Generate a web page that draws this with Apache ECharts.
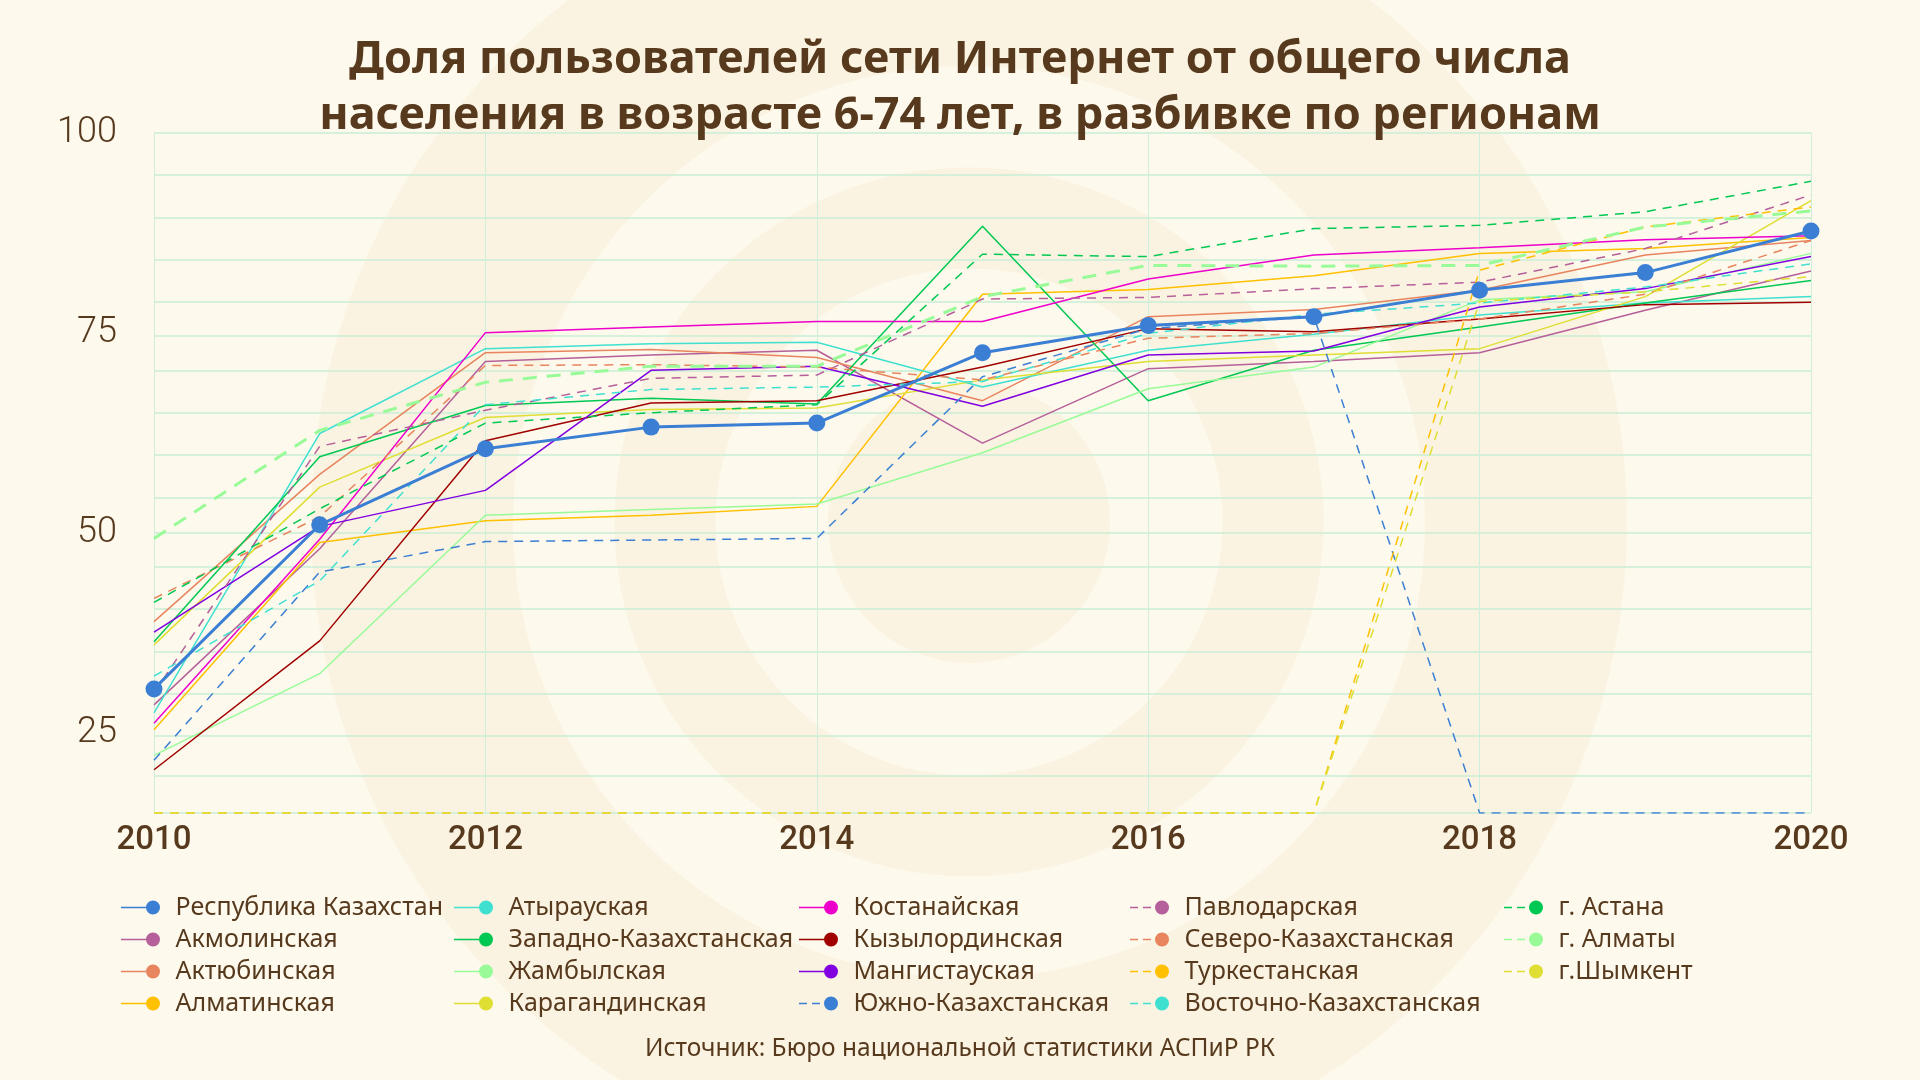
<!DOCTYPE html>
<html>
<head>
<meta charset="utf-8">
<style>
  html, body { margin: 0; padding: 0; background: #fdf9ec; }
  #chart { width: 1920px; height: 1080px; }
</style>
<script src="https://cdn.jsdelivr.net/npm/echarts@6/dist/echarts.min.js"></script>
</head>
<body>
<div id="chart"></div>
<script>
// ---------------- data ----------------
const years = [2010, 2011, 2012, 2013, 2014, 2015, 2016, 2017, 2018, 2019, 2020];

// values at 15 are drawn on the axis floor in the reference (no data)
const kazakhstan  = [30.5, 51.0, 60.5, 63.2, 63.7, 72.5, 75.9, 77.0, 80.3, 82.5, 87.7];
const akmola      = [28.5, 48.0, 71.4, 72.2, 72.8, 61.2, 70.5, 71.4, 72.5, 77.8, 82.7];
const aktobe      = [38.9, 57.3, 72.5, 72.9, 71.9, 66.5, 77.0, 77.9, 80.3, 84.7, 86.5];
const almatyReg   = [25.4, 48.8, 51.5, 52.2, 53.3, 79.8, 80.4, 82.1, 84.9, 85.5, 86.9];
const atyrau      = [27.5, 62.4, 73.0, 73.6, 73.8, 68.2, 72.8, 74.8, 77.2, 78.7, 79.5];
const westKaz     = [36.4, 59.5, 65.9, 66.8, 66.1, 88.3, 66.5, 72.8, 75.7, 78.7, 81.5];
const zhambyl     = [22.2, 32.4, 52.2, 52.9, 53.6, 60.0, 68.0, 70.7, 79.1, 80.1, 84.9];
const karaganda   = [36.0, 55.7, 64.4, 65.4, 65.6, 69.1, 71.4, 72.2, 73.0, 79.5, 91.5];
const kostanay    = [26.2, 49.2, 75.0, 75.7, 76.4, 76.4, 81.7, 84.7, 85.6, 86.6, 87.1];
const kyzylorda   = [20.4, 36.5, 61.5, 66.2, 66.5, 70.7, 75.5, 75.1, 76.7, 78.5, 78.8];
const mangystau   = [37.6, 50.8, 55.3, 70.3, 70.8, 65.8, 72.2, 72.7, 78.2, 80.5, 84.5];
const southKaz    = [21.6, 45.1, 48.9, 49.1, 49.3, 69.5, 75.5, 77.0, 15, 15, 15];
const pavlodar    = [30.0, 60.8, 65.3, 69.3, 69.7, 79.2, 79.4, 80.5, 81.3, 85.5, 92.2];
const northKaz    = [41.8, 52.0, 70.9, 71.0, 70.7, 69.1, 74.3, 74.9, 76.7, 79.8, 86.5];
const turkestan   = [15, 15, 15, 15, 15, 15, 15, 15, 82.8, 88.2, 90.7];
const eastKaz     = [32.1, 44.0, 66.0, 67.9, 68.2, 68.9, 74.9, 77.3, 78.7, 80.7, 83.6];
const astana      = [41.3, 53.0, 63.7, 65.0, 66.0, 84.8, 84.5, 88.0, 88.4, 90.1, 93.9];
const almatyCity  = [49.3, 62.8, 68.8, 70.8, 70.8, 79.5, 83.4, 83.3, 83.4, 88.2, 90.2];
const shymkent    = [15, 15, 15, 15, 15, 15, 15, 15, 78.9, 80.1, 82.0];

const yLabelValues = [25, 50, 75, 100];
const yGridValues = [15, 19.6, 24.7, 29.9, 35.1, 40.5, 45.7, 50, 54.4, 59.7, 65, 70.3, 74.6, 78.8, 84.1, 89.4, 94.7, 100];

const titleText = 'Доля пользователей сети Интернет от общего числа\nнаселения в возрасте 6-74 лет, в разбивке по регионам';
const sourceText = 'Источник: Бюро национальной статистики АСПиР РК';

// ---------------- styles ----------------
const C = {
  blue: '#3b7fd4', mauve: '#b5609a', salmon: '#e8845e', amber: '#ffc000',
  turq: '#40e0d0', green: '#00c853', pale: '#98fb98', yellow: '#dede33',
  magenta: '#ee00cc', darkred: '#a00000', violet: '#8000e0'
};
const brown = '#573a1e';

const seriesDefs = [
  { name: 'Республика Казахстан', data: kazakhstan, color: C.blue, main: true },
  { name: 'Акмолинская', data: akmola, color: C.mauve },
  { name: 'Актюбинская', data: aktobe, color: C.salmon },
  { name: 'Алматинская', data: almatyReg, color: C.amber },
  { name: 'Атырауская', data: atyrau, color: C.turq },
  { name: 'Западно-Казахстанская', data: westKaz, color: C.green },
  { name: 'Жамбылская', data: zhambyl, color: C.pale },
  { name: 'Карагандинская', data: karaganda, color: C.yellow },
  { name: 'Костанайская', data: kostanay, color: C.magenta },
  { name: 'Кызылординская', data: kyzylorda, color: C.darkred },
  { name: 'Мангистауская', data: mangystau, color: C.violet },
  { name: 'Южно-Казахстанская', data: southKaz, color: C.blue, dashed: true },
  { name: 'Павлодарская', data: pavlodar, color: C.mauve, dashed: true },
  { name: 'Северо-Казахстанская', data: northKaz, color: C.salmon, dashed: true },
  { name: 'Туркестанская', data: turkestan, color: C.amber, dashed: true },
  { name: 'Восточно-Казахстанская', data: eastKaz, color: C.turq, dashed: true },
  { name: 'г. Астана', data: astana, color: C.green, dashed: true },
  { name: 'г. Алматы', data: almatyCity, color: C.pale, dashed: true, thick: true },
  { name: 'г.Шымкент', data: shymkent, color: C.yellow, dashed: true }
];

const iconSolid = 'path://M0 6.2 L28 6.2 L28 7.8 L0 7.8 Z M25 7 A7 7 0 1 1 39 7 A7 7 0 1 1 25 7 Z';
const iconDashed = 'path://M0 6.2 L8 6.2 L8 7.8 L0 7.8 Z M13 6.2 L21 6.2 L21 7.8 L13 7.8 Z M25 7 A7 7 0 1 1 39 7 A7 7 0 1 1 25 7 Z';

const series = seriesDefs.map(d => ({
  name: d.name,
  type: 'line',
  data: years.map((y, i) => [y, d.data[i]]),
  color: d.color,
  showSymbol: !!d.main,
  symbol: 'circle',
  symbolSize: d.main ? 17 : 4,
  z: d.main ? 5 : 2,
  lineStyle: {
    color: d.color,
    width: d.main ? 3 : (d.thick ? 3 : 1.5),
    type: d.dashed ? (d.thick ? [14, 10] : [9, 7]) : 'solid'
  },
  itemStyle: { color: d.color },
  emphasis: { disabled: true },
  animation: false
}));

const legendCols = [
  { left: 116, names: seriesDefs.slice(0, 4) },
  { left: 449, names: seriesDefs.slice(4, 8) },
  { left: 794, names: seriesDefs.slice(8, 12) },
  { left: 1125, names: seriesDefs.slice(12, 16) },
  { left: 1499, names: seriesDefs.slice(16, 19) }
];
const legends = legendCols.map(col => ({
  orient: 'vertical',
  left: col.left,
  top: 890,
  itemWidth: 40,
  itemHeight: 14,
  itemGap: 7,
  selectedMode: false,
  textStyle: { color: brown, fontFamily: 'Noto Sans', fontSize: 25, lineHeight: 25, padding: [0, 0, 0, 10] },
  data: col.names.map(d => ({ name: d.name, icon: d.dashed ? iconDashed : iconSolid }))
}));

// background rings
const ringCenter = [969, 522];
const beige = '#fbf3e1';
const graphics = [
  { type: 'circle', z: -10, silent: true, shape: { cx: ringCenter[0], cy: ringCenter[1], r: 557 }, style: { fill: 'none', stroke: beige, lineWidth: 202 } },
  { type: 'circle', z: -10, silent: true, shape: { cx: ringCenter[0], cy: ringCenter[1], r: 304 }, style: { fill: 'none', stroke: beige, lineWidth: 101 } },
  { type: 'circle', z: -10, silent: true, shape: { cx: ringCenter[0], cy: ringCenter[1], r: 141 }, style: { fill: beige } },
  { type: 'text', z: 10, left: 'center', top: 1037, style: { text: sourceText, fill: brown, font: '24.5px "Noto Sans"' } }
];

const chart = echarts.init(document.getElementById('chart'), null, { renderer: 'canvas' });
chart.setOption({
  backgroundColor: '#fdf9ec',
  animation: false,
  title: {
    text: titleText,
    left: 'center',
    top: 27,
    textStyle: { color: brown, fontFamily: 'Noto Sans', fontWeight: 'bold', fontSize: 45, lineHeight: 56 }
  },
  graphic: graphics,
  legend: legends,
  grid: { left: 154, right: 109, top: 132.5, bottom: 267, containLabel: false },
  xAxis: {
    type: 'value',
    min: 2010, max: 2020, interval: 2,
    axisLine: { show: false },
    axisTick: { show: false },
    splitLine: { show: true, lineStyle: { color: '#cfeedc', width: 1 } },
    axisLabel: { color: brown, fontFamily: 'Roboto', fontWeight: 500, fontSize: 33, margin: 11, formatter: v => String(v) }
  },
  yAxis: {
    type: 'value',
    min: 15, max: 100,
    axisLine: { show: false },
    axisTick: { show: false, customValues: yGridValues },
    splitLine: { show: true, lineStyle: { color: '#c9eed6', width: 1.5 } },
    axisLabel: { customValues: yLabelValues, color: brown, fontFamily: 'Roboto', fontWeight: 300, fontSize: 36, margin: 37 }
  },
  series: series
});
</script>
</body>
</html>
